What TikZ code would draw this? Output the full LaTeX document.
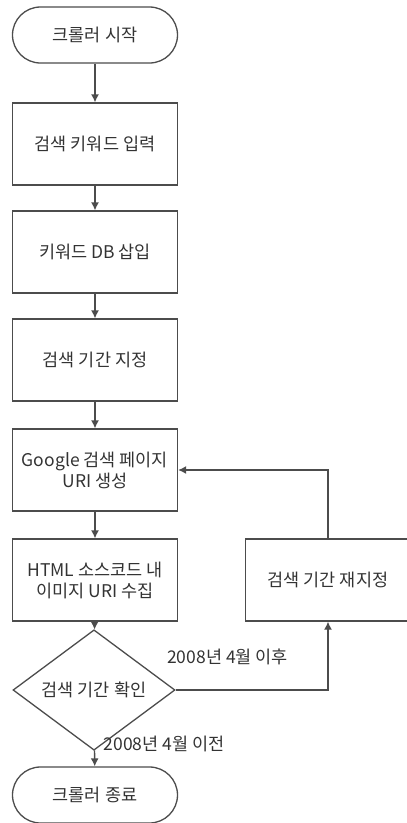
\documentclass[tikz,border=0pt]{standalone}
\usepackage{fontspec}
\setmainfont{Noto Sans CJK KR}
\usetikzlibrary{shapes.geometric,arrows.meta}
\begin{document}
\begin{tikzpicture}[x=1pt,y=-1pt,
  every node/.style={font=\fontsize{17.5}{21}\selectfont, text=black!80, align=center},
  line/.style={draw=black!70, line width=1.3pt},
  terminal/.style={line, rounded corners=28pt, minimum width=165pt, minimum height=56pt, inner sep=0pt},
  procbox/.style={line, rectangle, minimum width=165pt, minimum height=82pt, inner sep=0pt},
  decision/.style={line, diamond, minimum width=162pt, minimum height=80pt, inner sep=0pt},
  flow/.style={line, -{Latex[length=8pt,width=8pt]}},
  lbl/.style={inner sep=0pt, anchor=west}
]
\clip (0,0) rectangle (407,823);
\useasboundingbox (0,0) rectangle (407,823);

% main column
\node[terminal] (start) at (95,35) {크롤러 시작};
\node[procbox] (kw) at (95,144) {검색 키워드 입력};
\node[procbox] (db) at (95,252) {키워드 DB 삽입};
\node[procbox] (period) at (95,360) {검색 기간 지정};
\node[procbox] (uri) at (95,470) {Google 검색 페이지\\URI 생성};
\node[procbox] (html) at (95,580) {HTML 소스코드 내\\이미지 URI 수집};
\node[decision] (check) at (94,690) {검색 기간 확인};
\node[terminal] (stop) at (95,795) {크롤러 종료};

% side branch
\node[procbox] (reset) at (328,580) {검색 기간 재지정};

% connectors
\draw[flow] (start) -- (kw);
\draw[flow] (kw) -- (db);
\draw[flow] (db) -- (period);
\draw[flow] (period) -- (uri);
\draw[flow] (uri) -- (html);
\draw[flow] (html) -- (check);
\draw[flow] (check) -- (stop);
\draw[flow] (check.east) -| (reset.south);
\draw[flow] (reset.north) |- (uri.east);

% branch labels
\node[lbl] at (167,657) {2008년 4월 이후};
\node[lbl] at (103.5,744) {2008년 4월 이전};
\end{tikzpicture}
\end{document}
